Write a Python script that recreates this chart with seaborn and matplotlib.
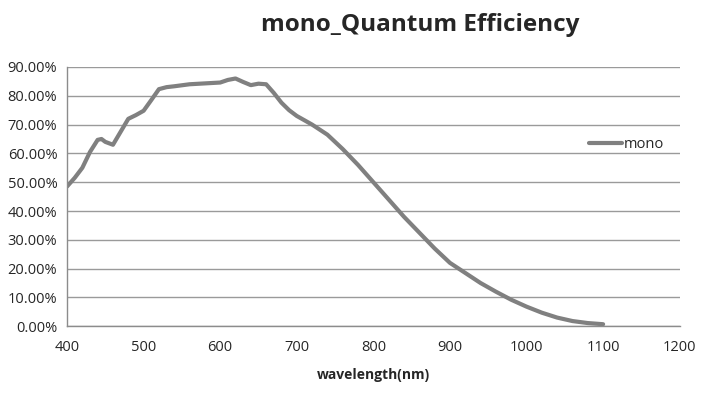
import matplotlib
matplotlib.use("Agg")
import matplotlib.pyplot as plt
import seaborn as sns
import pandas as pd
from matplotlib.ticker import PercentFormatter

# Quantum efficiency curve
wavelength = [400, 410, 420, 430, 440, 445, 450, 460, 470, 480, 490, 500, 510, 520, 530,
              540, 560, 580, 600, 610, 620, 630, 640, 650, 660, 670, 680, 690, 700,
              720, 740, 760, 780, 800, 820, 840, 860, 880, 900, 920, 940, 960, 980,
              1000, 1020, 1040, 1060, 1080, 1100]
qe_mono = [48.5, 51.5, 55.0, 60.5, 64.7, 65.0, 64.0, 63.0, 67.5, 72.0, 73.3, 74.8, 78.5, 82.3, 83.0,
           83.3, 84.0, 84.3, 84.6, 85.5, 86.0, 84.8, 83.7, 84.2, 84.0, 81.0, 77.6, 75.0, 73.0,
           70.0, 66.5, 61.5, 56.0, 50.0, 44.0, 38.0, 32.5, 27.0, 22.0, 18.5, 15.0, 12.0, 9.2,
           6.8, 4.7, 3.0, 1.8, 1.1, 0.7]

x_ticks = [400, 500, 600, 700, 800, 900, 1000, 1100, 1200]
y_ticks = [0, 10, 20, 30, 40, 50, 60, 70, 80, 90]

df = pd.DataFrame({"wavelength": wavelength, "QE": qe_mono, "series": "mono"})

sns.set_style("white")
plt.rcParams["font.family"] = ["Open Sans", "DejaVu Sans"]

fig = plt.figure(figsize=(7.01, 3.94), dpi=100)
ax = fig.add_axes([0.0956, 0.172, 0.874, 0.658])

sns.lineplot(data=df, x="wavelength", y="QE", hue="series", palette=["#808080"],
             linewidth=3, ax=ax)

ax.set_xlim(400, 1200)
ax.set_ylim(0, 90)
ax.set_xticks(x_ticks)
ax.set_yticks(y_ticks)
ax.yaxis.set_major_formatter(PercentFormatter(decimals=2))
ax.tick_params(labelsize=10.5, length=4, color="#8c8c8c", width=1, pad=3)
ax.tick_params(axis="x", pad=6)

ax.grid(axis="y", color="#9a9a9a", linewidth=1)
ax.set_axisbelow(True)
for side in ["top", "right"]:
    ax.spines[side].set_visible(False)
for side in ["left", "bottom"]:
    ax.spines[side].set_color("#8c8c8c")
    ax.spines[side].set_linewidth(1)

ax.set_xlabel("wavelength(nm)", fontsize=10, fontweight="bold", labelpad=9)
ax.set_ylabel("")

leg = ax.legend(loc="center left", bbox_to_anchor=(0.83, 0.70), frameon=False,
                fontsize=10.5, handlelength=2.3, handletextpad=0.1)

fig.text(0.6, 0.937, "mono_Quantum Efficiency", fontsize=17.5, fontweight="bold",
         ha="center", va="center")

fig.savefig("out.png", dpi=100)
